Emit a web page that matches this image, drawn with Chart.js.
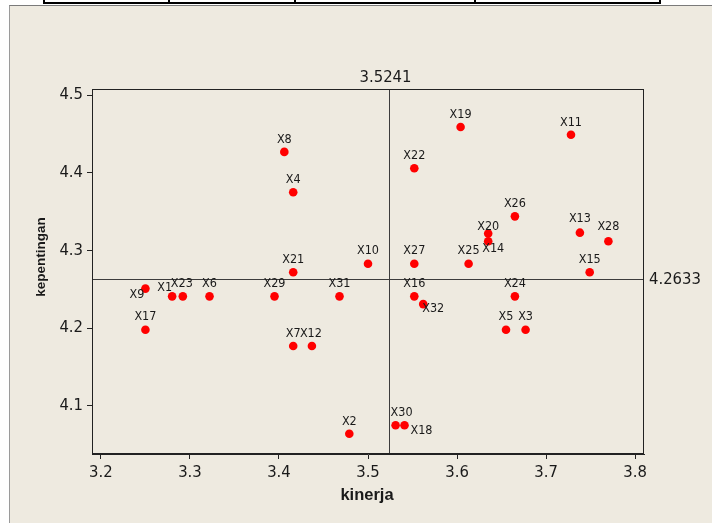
<!DOCTYPE html>
<html>
<head>
<meta charset="utf-8">
<script src="https://cdn.jsdelivr.net/npm/chart.js@4.4.1/dist/chart.umd.min.js"></script>
<style>
    html, body { margin: 0; padding: 0; background: #fff; }
    #wrap { position: relative; width: 712px; height: 523px; overflow: hidden; }
    #panel {
        position: absolute; left: 9px; top: 5px; right: 0; bottom: 0;
        background: #eeeae0;
        border-top: 1px solid #7a7a7a;
        border-left: 1px solid #9a9a9a;
    }
    .tbl { position: absolute; background: #000; }
    #main-chart { position: absolute; left: 0; top: 0; }
</style>
</head>
<body>
<div id="wrap">
    <!-- bottom of the table above the chart -->
    <div class="tbl" style="left:44px; top:2px; width:617px; height:2px;"></div>
    <div class="tbl" style="left:43px; top:0; width:2px; height:4px;"></div>
    <div class="tbl" style="left:168px; top:0; width:2px; height:4px;"></div>
    <div class="tbl" style="left:294px; top:0; width:2px; height:4px;"></div>
    <div class="tbl" style="left:474px; top:0; width:2px; height:4px;"></div>
    <div class="tbl" style="left:659px; top:0; width:2px; height:4px;"></div>
    <div id="panel"></div>
    <canvas id="main-chart" width="712" height="523"></canvas>
</div>
<script>
const names = [
    "X1", "X2", "X3", "X4", "X5", "X6", "X7", "X8",
    "X9", "X10", "X11", "X12", "X13", "X14", "X15", "X16",
    "X17", "X18", "X19", "X20", "X21", "X22", "X23", "X24",
    "X25", "X26", "X27", "X28", "X29", "X30", "X31", "X32",
];
const kinerja = [
    3.280, 3.479, 3.677, 3.416, 3.655, 3.322, 3.416, 3.406,
    3.250, 3.500, 3.728, 3.437, 3.738, 3.635, 3.749, 3.552,
    3.250, 3.541, 3.604, 3.635, 3.416, 3.552, 3.292, 3.665,
    3.613, 3.665, 3.552, 3.770, 3.395, 3.531, 3.468, 3.562,
];
const kepentingan = [
    4.241, 4.064, 4.198, 4.375, 4.198, 4.241, 4.177, 4.427,
    4.251, 4.283, 4.449, 4.177, 4.323, 4.312, 4.272, 4.241,
    4.198, 4.075, 4.459, 4.322, 4.272, 4.406, 4.241, 4.241,
    4.283, 4.344, 4.283, 4.312, 4.241, 4.075, 4.241, 4.231,
];
const refKinerja = 3.5241;
const refKepentingan = 4.2633;
const xRange = [3.19, 3.81];
const yRange = [4.038, 4.508];

// where each point label sits relative to its point (default: centred above)
const labelPlace = {
    X9: { dx: -1, dy: 6, align: "right" },
    X1: { dx: 0, dy: -9, align: "right" },
    X20: { dy: -7 },
    X14: { dx: 5, dy: 8 },
    X32: { dx: -1, dy: 5, align: "left" },
    X18: { dx: 6, dy: 5, align: "left" },
    X30: { dx: 6 },
    X13: { dy: -14 },
    X28: { dy: -14 },
    X23: { dx: -1 },
    X12: { dx: -1 },
};

const narrow = "'DejaVu Sans Condensed', 'DejaVu Sans', sans-serif";
const textColor = "#1a1a1a";

const quadrantPlugin = {
    id: "quadrant",
    beforeDatasetsDraw(chart) {
        const { ctx, chartArea: a, scales } = chart;
        const rx = Math.round(scales.x.getPixelForValue(refKinerja)) + 0.5;
        const ry = Math.round(scales.y.getPixelForValue(refKepentingan)) + 0.5;
        ctx.save();
        ctx.strokeStyle = "#3c3c3c";
        ctx.lineWidth = 1;
        ctx.beginPath();
        ctx.moveTo(rx, a.top);
        ctx.lineTo(rx, a.bottom);
        ctx.moveTo(a.left, ry);
        ctx.lineTo(a.right, ry);
        ctx.stroke();

        ctx.fillStyle = textColor;
        ctx.font = "16.5px " + narrow;
        ctx.textAlign = "center";
        ctx.textBaseline = "middle";
        ctx.fillText(refKinerja.toFixed(4), rx - 4, a.top - 11);
        ctx.textAlign = "left";
        ctx.fillText(refKepentingan.toFixed(4), a.right + 5, ry);
        ctx.restore();
    },
    afterDatasetsDraw(chart) {
        const { ctx, chartArea: a } = chart;
        ctx.save();
        ctx.strokeStyle = "#222";
        ctx.lineWidth = 1;
        ctx.strokeRect(a.left + 0.5, a.top + 0.5, a.width - 1, a.height - 1);

        // point labels
        const meta = chart.getDatasetMeta(0);
        ctx.fillStyle = textColor;
        ctx.font = "12.5px " + narrow;
        ctx.textBaseline = "middle";
        meta.data.forEach((pt, i) => {
            const p = labelPlace[names[i]] || {};
            ctx.textAlign = p.align || "center";
            ctx.fillText(names[i], pt.x + (p.dx || 0), pt.y + (p.dy !== undefined ? p.dy : -12.5));
        });

        // axis titles
        ctx.font = "bold 16.5px 'Liberation Sans', sans-serif";
        ctx.textAlign = "center";
        ctx.fillText("kinerja", (a.left + a.right) / 2 - 1, 495);
        ctx.translate(41, 257);
        ctx.rotate(-Math.PI / 2);
        ctx.font = "bold 13.5px 'Liberation Sans', sans-serif";
        ctx.fillText("kepentingan", 0, 0);
        ctx.restore();
    },
};

const chartCanvas = document.getElementById("main-chart");
const points = names.map((n, i) => ({ x: kinerja[i], y: kepentingan[i] }));

new Chart(chartCanvas, {
    type: "scatter",
    data: {
        datasets: [
            {
                label: "kepentingan vs kinerja",
                data: points,
                backgroundColor: "#ff0000",
                borderColor: "#ff0000",
                borderWidth: 0,
                pointRadius: 4.3,
            },
        ],
    },
    options: {
        responsive: false,
        animation: false,
        devicePixelRatio: 1,
        layout: {
            padding: { top: 89, left: 0, right: 68, bottom: 0 },
        },
        plugins: {
            legend: { display: false },
            tooltip: { enabled: false },
        },
        scales: {
            x: {
                type: "linear",
                min: xRange[0],
                max: xRange[1],
                afterFit(scale) { scale.height = 69; },
                ticks: {
                    stepSize: 0.1,
                    includeBounds: false,
                    padding: 4,
                    color: textColor,
                    font: { family: narrow, size: 16.5 },
                    callback: (v) => v.toFixed(1),
                },
                grid: { drawOnChartArea: false, tickLength: 5, color: "#222" },
                border: { color: "#222" },
            },
            y: {
                type: "linear",
                min: yRange[0],
                max: yRange[1],
                afterFit(scale) { scale.width = 92; },
                ticks: {
                    stepSize: 0.1,
                    includeBounds: false,
                    padding: 4,
                    color: textColor,
                    font: { family: narrow, size: 16.5 },
                    callback: (v) => v.toFixed(1),
                },
                grid: { drawOnChartArea: false, tickLength: 5, color: "#222" },
                border: { color: "#222" },
            },
        },
    },
    plugins: [quadrantPlugin],
});
</script>
</body>
</html>
